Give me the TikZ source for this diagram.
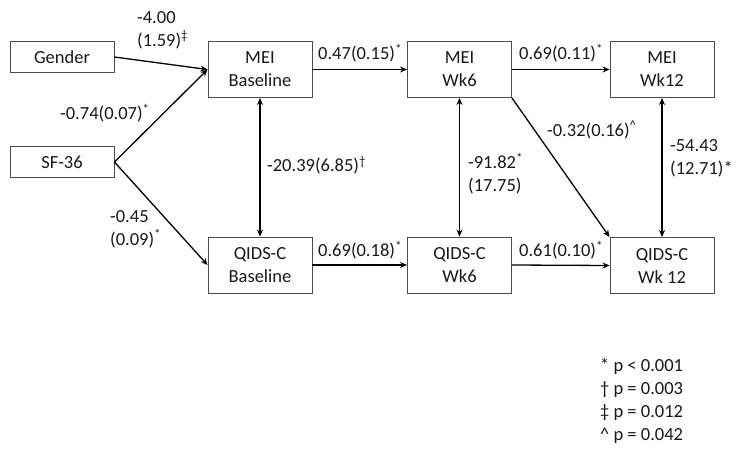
\documentclass[tikz,border=0pt]{standalone}
\usepackage{fontspec}
\setmainfont{Carlito}
\usetikzlibrary{arrows.meta}
\begin{document}
\begin{tikzpicture}[x=1pt,y=-1pt,
  every node/.style={font=\fontsize{18.5}{23}\selectfont, text=black!90},
  box/.style={draw=black!70, line width=0.9pt, minimum width=104pt, inner sep=0pt, align=center},
  tall/.style={box, minimum height=56pt},
  short/.style={box, minimum height=31pt},
  arr/.style={line width=1.3pt, -{Stealth[length=7pt,width=6pt]}},
  darr/.style={line width=1.3pt, {Stealth[length=7pt,width=6pt]}-{Stealth[length=7pt,width=6pt]}},
  lab/.style={inner sep=0pt, align=left}]
\useasboundingbox (0,0) rectangle (744,457);
% boxes
\node[short] (gender) at (62,57) {Gender};
\node[short] (sf) at (62,162) {SF-36};
\node[tall] (meib) at (260,69.5) {MEI\\Baseline};
\node[tall] (mei6) at (459.5,69.5) {MEI\\Wk6};
\node[tall] (mei12) at (662,69.5) {MEI\\Wk12};
\node[tall] (qb) at (260,265) {QIDS-C\\Baseline};
\node[tall] (q6) at (459.5,265) {QIDS-C\\Wk6};
\node[tall] (q12) at (662,265.5) {QIDS-C\\Wk 12};
% connectors
\draw[arr] (gender.east) -- (meib.west);
\draw[arr] (sf.east) -- (meib.west);
\draw[arr] (sf.east) -- (qb.west);
\draw[arr] (meib.east) -- (mei6.west);
\draw[arr] (mei6.east) -- (mei12.west);
\draw[arr] (qb.east) -- (q6.west);
\draw[arr] (q6.east) -- (q12.west);
\draw[arr] (mei6.south east) -- (q12.north west);
\draw[darr] (meib.south) -- (qb.north);
\draw[darr] (mei6.south) -- (q6.north);
\draw[darr] (mei12.south) -- (q12.north);
% labels
\node[lab, anchor=west] (l1) at (137,30) {-4.00\\(1.59)\textsuperscript{‡}};
\node[lab, anchor=west] (l2) at (60,113) {-0.74(0.07)\textsuperscript{*}};
\node[lab, anchor=west] (l3) at (110,229) {-0.45\\(0.09)\textsuperscript{*}};
\node[lab, anchor=west] (l4) at (267,165) {-20.39(6.85)\textsuperscript{†}};
\node[lab, anchor=west] (l5) at (318,53) {0.47(0.15)\textsuperscript{*}};
\node[lab, anchor=west] (l6) at (519,53) {0.69(0.11)\textsuperscript{*}};
\node[lab, anchor=west] (l7) at (318,250) {0.69(0.18)\textsuperscript{*}};
\node[lab, anchor=west] (l8) at (519,250) {0.61(0.10)\textsuperscript{*}};
\node[lab, anchor=west] (l9) at (547,130) {-0.32(0.16)\textsuperscript{\^{}}};
\node[lab, anchor=west] (l10) at (468,174) {-91.82\textsuperscript{*}\\(17.75)};
\node[lab, anchor=west] (l11) at (670,158.5) {-54.43\\(12.71)*};
\node[lab, anchor=west] (leg) at (600,400.5) {* p {<} 0.001\\† p = 0.003\\‡ p = 0.012\\\^{} p = 0.042};
\end{tikzpicture}
\end{document}
